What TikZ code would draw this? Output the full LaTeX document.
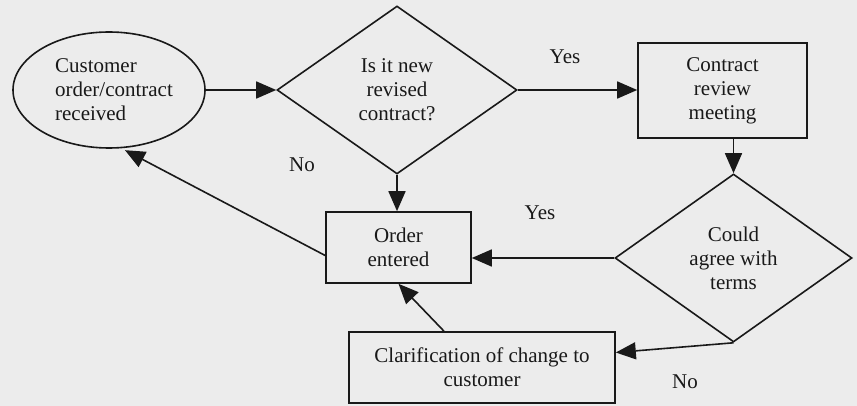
\documentclass[tikz,border=0pt]{standalone}
\usepackage{fontspec}
\setmainfont{Liberation Serif}
\usetikzlibrary{shapes.geometric,arrows.meta}
\definecolor{bg}{RGB}{236,236,236}
\definecolor{ink}{RGB}{25,25,25}
\begin{document}
\begin{tikzpicture}[x=1pt,y=-1pt,
  font=\fontsize{21}{24}\selectfont,
  line width=1.6pt, draw=ink, text=ink,
  box/.style={draw, rectangle, inner sep=0pt, align=center},
  decision/.style={draw, diamond, inner sep=0pt, align=center},
  startnode/.style={draw, ellipse, inner sep=0pt, align=left},
  arr/.style={draw=ink, -{Triangle[length=20pt,width=17pt]}},
  lab/.style={inner sep=0pt}]
\path[fill=bg] (0,0) rectangle (857,406);
\useasboundingbox (0,0) rectangle (857,406);

\node[startnode, minimum width=192pt, minimum height=116pt] (cust) at (109,90) {\hspace*{10pt}Customer\\\hspace*{10pt}order/contract\\\hspace*{10pt}received};
\node[decision, minimum width=240pt, minimum height=168pt] (q1) at (397,90) {Is it new\\revised\\contract?};
\node[box, minimum width=169pt, minimum height=95pt] (review) at (722.5,90.5) {Contract\\review\\meeting};
\node[decision, minimum width=237pt, minimum height=168pt] (q2) at (733.5,258) {Could\\agree with\\terms};
\node[box, minimum width=145pt, minimum height=71pt] (order) at (398.5,247.5) {Order\\entered};
\node[box, minimum width=266pt, minimum height=71pt] (clar) at (482,367.5) {Clarification of change to\\customer};

\draw[arr] (cust.east) -- (q1.west);
\draw[arr] (q1.east) -- (q1.east -| review.west);
\draw[arr] (review.south -| q2.north) -- (q2.north);
\draw[arr] (q1.south) -- (q1.south |- order.north);
\draw[arr] (q2.west) -- (q2.west -| order.east);
\draw[arr, shorten >=4pt] ([yshift=-8pt]order.west) -- (cust.-78);
\draw[arr] ([xshift=-38pt]clar.north) -- (order.south);
\draw[arr] (q2.south) -- ([yshift=15pt]clar.east);

\node[lab] (yes1) at (565,57) {Yes};
\node[lab] (no1) at (302,165) {No};
\node[lab] (yes2) at (540,213) {Yes};
\node[lab] (no2) at (685,382) {No};
\end{tikzpicture}
\end{document}
